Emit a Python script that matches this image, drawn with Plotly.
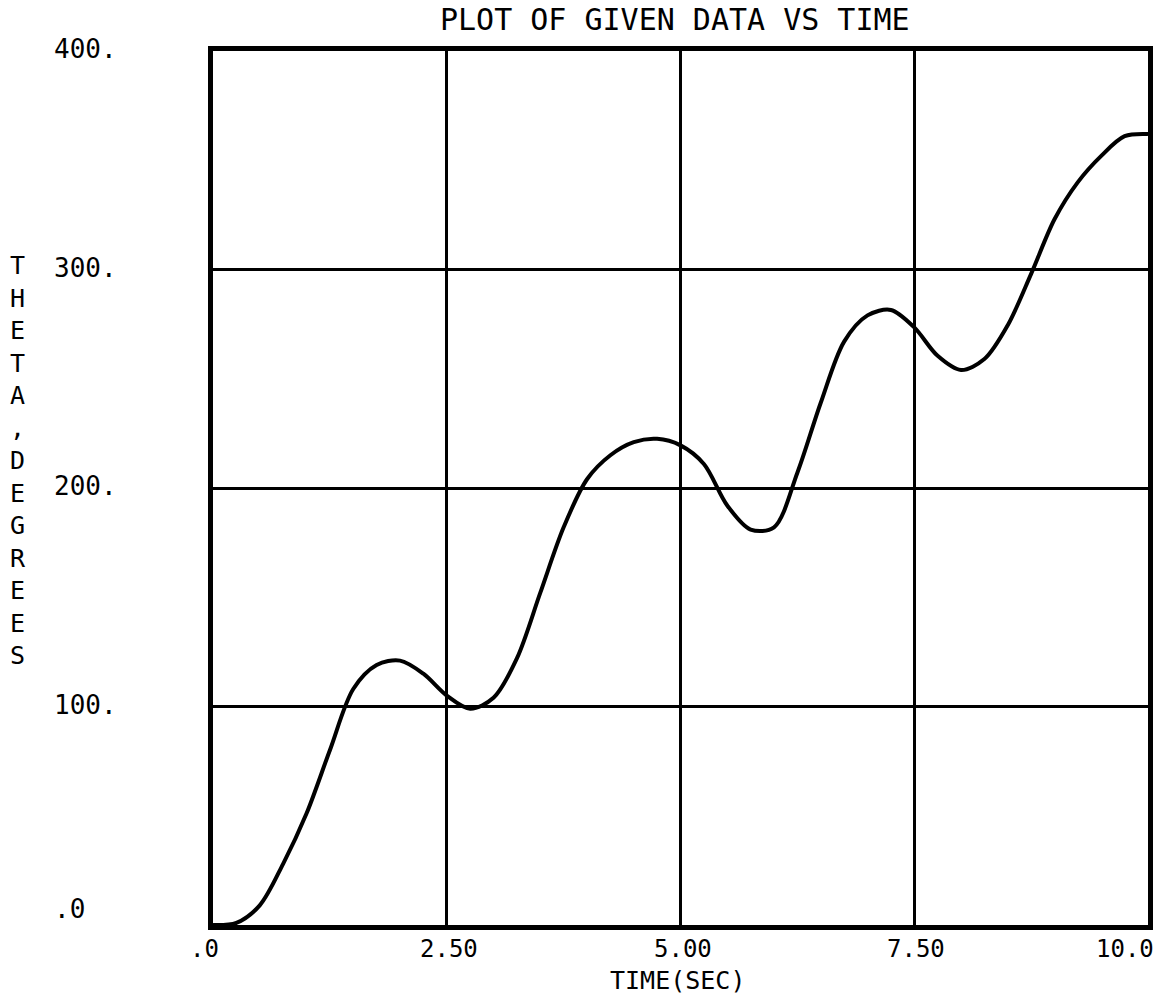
import plotly.graph_objects as go

# Time samples (seconds) and measured angle (degrees)
time_sec = [0, 0.25, 0.5, 0.75, 1.0, 1.25, 1.5, 1.75, 2.0, 2.25, 2.5, 2.75,
            3.0, 3.25, 3.5, 3.75, 4.0, 4.25, 4.5, 4.75, 5.0, 5.25, 5.5, 5.75,
            6.0, 6.25, 6.5, 6.75, 7.0, 7.25, 7.5, 7.75, 8.0, 8.25, 8.5, 8.75,
            9.0, 9.25, 9.5, 9.75, 10.0]
theta_deg = [0, 1, 9, 28, 51, 80, 108, 119, 121, 115, 105, 99,
             104, 122, 152, 182, 204, 215, 221, 222.5, 219.5, 211, 192, 181,
             182, 207, 239, 267, 279, 281.5, 273.5, 260.5, 254, 259, 274.5, 298,
             323, 340, 352, 361, 362]

x_ticks = [0, 2.5, 5.0, 7.5, 10.0]
x_tick_labels = [".0", "2.50", "5.00", "7.50", "10.0"]
y_ticks = [0, 100, 200, 300, 400]
y_tick_labels = [".0", "100.", "200.", "300.", "400."]

title_text = "PLOT OF GIVEN DATA VS TIME"
x_title = "TIME(SEC)"
y_title = "THETA,DEGREES"

FONT = "DejaVu Sans Mono"
INK = "black"

fig = go.Figure()
fig.add_trace(go.Scatter(
    x=time_sec, y=theta_deg, mode="lines",
    line=dict(color=INK, width=4, shape="spline", smoothing=0.9),
    hoverinfo="skip", showlegend=False,
))

axis_common = dict(
    showgrid=True, gridcolor=INK, gridwidth=3,
    showline=True, linecolor=INK, linewidth=5, mirror=True,
    zeroline=False, showticklabels=False, ticks="",
)
fig.update_xaxes(range=[0, 10], tickvals=x_ticks, **axis_common)
fig.update_yaxes(range=[0, 400], tickvals=y_ticks, **axis_common)

annotations = []
# x tick labels: end labels right-aligned to the frame, inner ones centred
for v, lab in zip(x_ticks, x_tick_labels):
    if v == x_ticks[0] or v == x_ticks[-1]:
        anchor, shift = "right", 8
    else:
        anchor, shift = "center", 2
    annotations.append(dict(
        x=v, y=0, xref="x", yref="paper", text=lab, showarrow=False,
        xanchor=anchor, yanchor="top", xshift=shift, yshift=-8,
        font=dict(family=FONT, size=24, color=INK),
    ))
# y tick labels, left-aligned in a column
for v, lab in zip(y_ticks, y_tick_labels):
    annotations.append(dict(
        x=-0.172, y=v, xref="paper", yref="y", text=lab, showarrow=False,
        xanchor="left", yanchor="middle",
        yshift=16 if v == y_ticks[0] else 2,
        font=dict(family=FONT, size=26, color=INK),
    ))
# axis titles
annotations.append(dict(
    x=0.497, y=-0.0635, xref="paper", yref="paper", text=x_title, showarrow=False,
    xanchor="center", yanchor="middle",
    font=dict(family=FONT, size=25, color=INK),
))
annotations.append(dict(
    x=-0.2086, y=0.531, xref="paper", yref="paper",
    text="<br>".join(y_title), showarrow=False,
    xanchor="center", yanchor="middle",
    font=dict(family=FONT, size=25, color=INK),
))
annotations.append(dict(
    x=0.494, y=1.0, xref="paper", yref="paper", text=title_text, showarrow=False,
    xanchor="center", yanchor="bottom", yshift=12,
    font=dict(family=FONT, size=30, color=INK),
))

fig.update_layout(
    width=1164, height=1000,
    margin=dict(l=213, r=16, t=51, b=75),
    paper_bgcolor="white", plot_bgcolor="white",
    annotations=annotations,
)

fig.write_html("out.html")
